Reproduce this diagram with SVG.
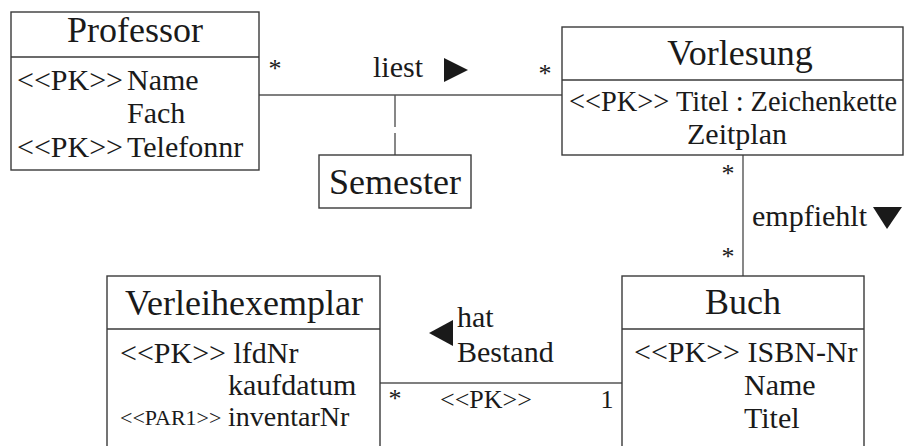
<svg xmlns="http://www.w3.org/2000/svg" width="905" height="446" viewBox="0 0 905 446">
  <style>
    text { font-family: "Liberation Serif", "Times New Roman", serif; fill: #1a1a1a; }
    .title { font-size: 36px; text-anchor: middle; }
    .attr { font-size: 30px; }
    .tight { font-size: 28px; }
    .small { font-size: 22px; }
    .mult { font-size: 26px; text-anchor: middle; }
    .box { fill: #ffffff; stroke: #3a3a3a; stroke-width: 1.4; }
    .sep { stroke: #3a3a3a; stroke-width: 1.4; }
    .link { fill: none; stroke: #555555; stroke-width: 1.4; }
    .arrow { fill: #1a1a1a; }
  </style>
  <rect width="905" height="446" fill="#ffffff"/>

  <!-- connectors -->
  <g id="connectors">
    <line class="link" x1="259" y1="95" x2="562" y2="95"/>
    <line class="link" x1="395" y1="95" x2="395" y2="155" stroke-dasharray="32 6"/>
    <line class="link" x1="743" y1="155" x2="743" y2="276"/>
    <line class="link" x1="380" y1="383" x2="622" y2="383"/>

    <text class="mult" x="275" y="77">*</text>
    <text class="mult" x="545" y="82">*</text>
    <text class="attr" x="373" y="77">liest</text>
    <polygon class="arrow" points="444,58 468,70 444,82"/>

    <text class="mult" x="728" y="182">*</text>
    <text class="mult" x="728" y="265">*</text>
    <text class="attr" x="752" y="226">empfiehlt</text>
    <polygon class="arrow" points="873,207 902,207 887,229"/>

    <polygon class="arrow" points="429,333 453,320 453,346"/>
    <text class="attr" x="457" y="327">hat</text>
    <text class="attr" x="457" y="362">Bestand</text>
    <text class="mult" x="395" y="407">*</text>
    <text class="mult" x="440" y="408" style="text-anchor:start">&lt;&lt;PK&gt;&gt;</text>
    <text class="mult" x="607" y="408">1</text>
  </g>

  <g id="professor">
    <rect class="box" x="11" y="12" width="248" height="158"/>
    <line class="sep" x1="11" y1="57" x2="259" y2="57"/>
    <text class="title" x="135" y="42">Professor</text>
    <text class="attr" x="17" y="90">&lt;&lt;PK&gt;&gt;</text>
    <text class="attr" x="127" y="90">Name</text>
    <text class="attr" x="127" y="123">Fach</text>
    <text class="attr" x="17" y="157">&lt;&lt;PK&gt;&gt;</text>
    <text class="attr" x="127" y="157">Telefonnr</text>
  </g>

  <g id="vorlesung">
    <rect class="box" x="562" y="27" width="341" height="128"/>
    <line class="sep" x1="562" y1="80" x2="903" y2="80"/>
    <text class="title" x="740" y="65">Vorlesung</text>
    <text x="569" y="111" style="font-size:28.4px">&lt;&lt;PK&gt;&gt; Titel : Zeichenkette</text>
    <text class="attr" x="687" y="144">Zeitplan</text>
  </g>

  <g id="semester">
    <rect class="box" x="319" y="155" width="152" height="53"/>
    <text class="title" x="395" y="194">Semester</text>
  </g>

  <g id="verleihexemplar">
    <rect class="box" x="107" y="276" width="273" height="180"/>
    <line class="sep" x1="107" y1="329" x2="380" y2="329"/>
    <text class="title" x="244" y="315">Verleihexemplar</text>
    <text class="attr" x="120" y="363">&lt;&lt;PK&gt;&gt; lfdNr</text>
    <text class="attr" x="228" y="395">kaufdatum</text>
    <text class="small" x="120" y="425">&lt;&lt;PAR1&gt;&gt;</text>
    <text class="tight" x="228" y="426">inventarNr</text>
  </g>

  <g id="buch">
    <rect class="box" x="622" y="276" width="242" height="180"/>
    <line class="sep" x1="622" y1="329" x2="864" y2="329"/>
    <text class="title" x="743" y="314">Buch</text>
    <text class="attr" x="634" y="362">&lt;&lt;PK&gt;&gt; ISBN-Nr</text>
    <text class="attr" x="744" y="395">Name</text>
    <text class="attr" x="744" y="428">Titel</text>
  </g>
</svg>
